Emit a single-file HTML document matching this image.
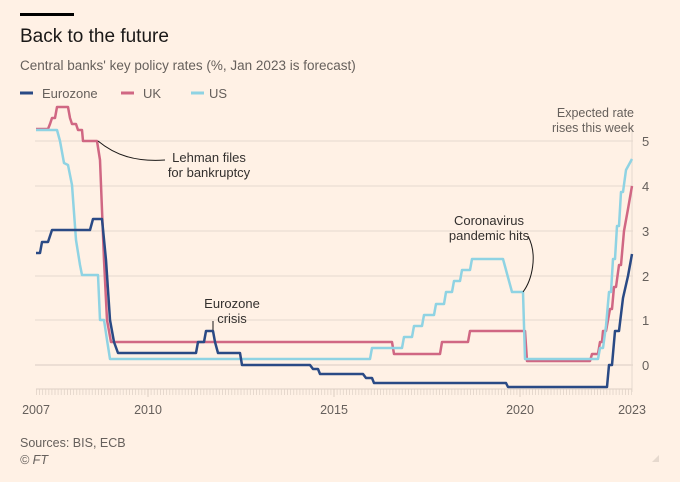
<!DOCTYPE html>
<html><head><meta charset="utf-8"><style>
body{margin:0;background:#fff1e5;}
svg{display:block;font-family:"Liberation Sans",sans-serif;}
</style></head><body>
<svg width="680" height="482" viewBox="0 0 680 482">
<defs><pattern id="tk" x="36" y="0" width="3.1" height="10" patternUnits="userSpaceOnUse"><rect x="0" y="0" width="0.8" height="10" fill="#e0d3c8"/></pattern></defs>
<rect width="680" height="482" fill="#fff1e5"/>
<rect x="20" y="13" width="54" height="3" fill="#000"/>
<text x="20" y="42" font-size="19" fill="#1a1817">Back to the future</text>
<text x="20" y="70" font-size="13.5" fill="#66605c">Central banks' key policy rates (%, Jan 2023 is forecast)</text>
<g stroke-width="3"><line x1="20" y1="93" x2="33" y2="93" stroke="#2a4a85"/><line x1="121" y1="93" x2="134" y2="93" stroke="#d06783"/><line x1="191" y1="93" x2="204" y2="93" stroke="#8fd3e3"/></g>
<g font-size="13" fill="#66605c"><text x="42" y="98">Eurozone</text><text x="143" y="98">UK</text><text x="209" y="98">US</text></g>
<g stroke="#e6d9ce" stroke-width="1">
<line x1="35" y1="141" x2="633" y2="141"/><line x1="35" y1="186" x2="633" y2="186"/><line x1="35" y1="231" x2="633" y2="231"/><line x1="35" y1="276" x2="633" y2="276"/><line x1="35" y1="320" x2="633" y2="320"/><line x1="35" y1="365" x2="633" y2="365" stroke="#d8ccc2"/>
<line x1="632" y1="125" x2="632" y2="392"/>
</g>
<line x1="36" y1="389" x2="632" y2="389" stroke="#ddd0c5"/>
<rect x="36" y="389" width="596" height="6" fill="url(#tk)"/>
<g stroke="#d6c8bc" stroke-width="0.8">
<path d="M148 389V397M334 389V397M520 389V397"/>
</g>
<g font-size="12.5" fill="#66605c" text-anchor="middle"><text x="36" y="414">2007</text><text x="148" y="414">2010</text><text x="334" y="414">2015</text><text x="520" y="414">2020</text><text x="632" y="414">2023</text></g>
<g font-size="13" fill="#66605c"><text x="642" y="146">5</text><text x="642" y="191">4</text><text x="642" y="236">3</text><text x="642" y="281">2</text><text x="642" y="325">1</text><text x="642" y="370">0</text></g>
<g fill="none" stroke-width="2.5" stroke-linejoin="round">
<polyline stroke="#d06783" points="36,129 48,129 50,124 52,118 55,118 57,107 68,107 70,118 72,124 76,124 78,130 82,130 83,141 97,141 100,160 104,260 107,320 111,342 392,342 394,354 440,354 442,342 468,342 470,331 525,331 527,361 590,361 592,354 598,354 600,342 602,342 603,331 606,331 608,320 610,309 612,309 614,287 616,287 619,265 621,265 624,231 628,209 632,186"/>
<polyline stroke="#8fd3e3" points="36,130 57,130 60,141 62,152 64,163 68,165 70,175 72,185 76,240 80,265 82,275 98,275 100,320 104,320 107,340 110,359 370,359 372,348 402,348 404,337 412,337 414,326 422,326 424,315 434,315 436,304 444,304 446,292 452,292 454,281 460,281 462,270 470,270 472,259 503,259 506,270 509,281 512,292 523,292 525,359 598,359 600,348 603,348 606,326 609,292 611,292 613,259 615,259 617,226 619,226 621,192 623,192 626,170 632,159"/>
<polyline stroke="#2a4a85" points="36,253 40,253 42,242 48,242 52,230 90,230 93,219 102,219 106,260 110,320 114,342 118,353 196,353 198,342 204,342 206,331 213,331 215,342 218,353 240,353 242,365 310,365 313,369 318,369 320,374 363,374 366,378 372,378 374,383 506,383 508,387 607,387 609,365 612,365 615,331 619,331 623,298 628,276 632,254"/>
</g>
<g fill="none" stroke="#1a1817" stroke-width="1">
<path d="M98 141 C115 155 135 162 165 160"/>
<path d="M213 321 V330"/>
<path d="M528 236 C538 255 532 280 523 292"/>
</g>
<g font-size="13" fill="#33302e" text-anchor="middle">
<text x="209" y="162">Lehman files</text><text x="209" y="177">for bankruptcy</text>
<text x="232" y="308">Eurozone</text><text x="232" y="323">crisis</text>
<text x="489" y="225">Coronavirus</text><text x="489" y="240">pandemic hits</text>
</g>
<g font-size="12.5" fill="#66605c" text-anchor="end"><text x="634" y="117">Expected rate</text><text x="634" y="132">rises this week</text></g>
<text x="20" y="447" font-size="12.5" fill="#66605c">Sources: BIS, ECB</text>
<text x="20" y="464" font-size="12.5" fill="#66605c" font-style="italic">© FT</text>
<path d="M652 462 L659 455 L659 462 Z" fill="#e6d9ce"/>
</svg>
</body></html>
